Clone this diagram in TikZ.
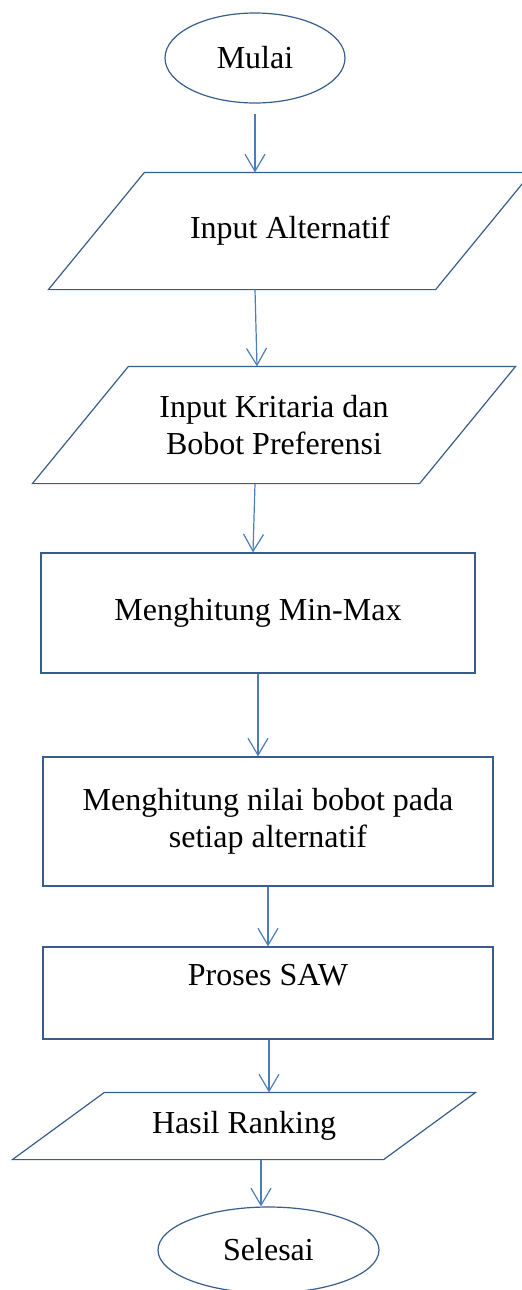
\documentclass[tikz,border=0pt]{standalone}
\usepackage{fontspec}
\setmainfont{Liberation Serif}
\usetikzlibrary{shapes.geometric,arrows.meta}
\definecolor{shapeline}{RGB}{56,93,138}
\definecolor{arrowline}{RGB}{74,126,187}
\tikzset{chart/.cd,
         base/.style={draw=shapeline,line width=0.6pt,inner sep=0pt,align=center,
                      font=\fontsize{16}{18.5}\selectfont},
         terminal/.style={chart/base,ellipse},
         io/.style={chart/base,draw=none,rectangle,
                    append after command={\pgfextra{%
                      \draw[draw=shapeline,line width=0.6pt]
                        ([xshift=-#1]\tikzlastnode.south west) -- ([xshift=#1]\tikzlastnode.north west)
                        -- ([xshift=#1]\tikzlastnode.north east) -- ([xshift=-#1]\tikzlastnode.south east)
                        -- cycle;}}},
         process/.style={chart/base,rectangle},
         flow/.style={draw=arrowline,line width=0.6pt,
                      -{Straight Barb[length=8.5pt,width=10pt]}}}

\begin{document}
\begin{tikzpicture}[x=0.5pt,y=-0.5pt]
\useasboundingbox (0,0) rectangle (521,1290);
% steps, top to bottom
\node[chart/terminal,minimum width=90pt,minimum height=45pt] (mulai) at (255,58) {Mulai};
\node[chart/io=24pt,minimum width=193pt,minimum height=58pt] (alternatif) at (290,231) {Input Alternatif};
\node[chart/io=24pt,minimum width=193pt,minimum height=58pt] (kriteria) at (274,425) {Input Kritaria dan\\Bobot Preferensi};
\node[chart/process,minimum width=217pt,minimum height=60pt] (minmax) at (258,613) {Menghitung Min-Max};
\node[chart/process,minimum width=225pt,minimum height=64.5pt] (bobot) at (268,821.5) {Menghitung nilai bobot pada\\setiap alternatif};
\node[chart/process,minimum width=225pt,minimum height=46pt] (saw) at (268,993) {Proses SAW\\\mbox{}};
\node[chart/io=23pt,minimum width=185pt,minimum height=33pt] (ranking) at (244,1126) {Hasil Ranking};
\node[chart/terminal,minimum width=110.5pt,minimum height=43pt] (selesai) at (268.5,1250) {Selesai};
% connectors
\draw[chart/flow] ([yshift=-5pt]mulai.south) -- (alternatif.north -| mulai.south);
\draw[chart/flow] (alternatif.south -| mulai.south) -- ([xshift=1pt]kriteria.north -| mulai.south);
\draw[chart/flow] (kriteria.south -| mulai.south) -- ([xshift=-1pt]minmax.north -| mulai.south);
\draw[chart/flow] (minmax.south) -- (bobot.north -| minmax.south);
\draw[chart/flow] (bobot.south) -- (saw.north);
\draw[chart/flow] ([xshift=0.5pt]saw.south) -- ([xshift=0.5pt]ranking.north -| saw.south);
\draw[chart/flow] ([xshift=8.5pt]ranking.south) -- ([xshift=-3.75pt]selesai.north);
\end{tikzpicture}
\end{document}
